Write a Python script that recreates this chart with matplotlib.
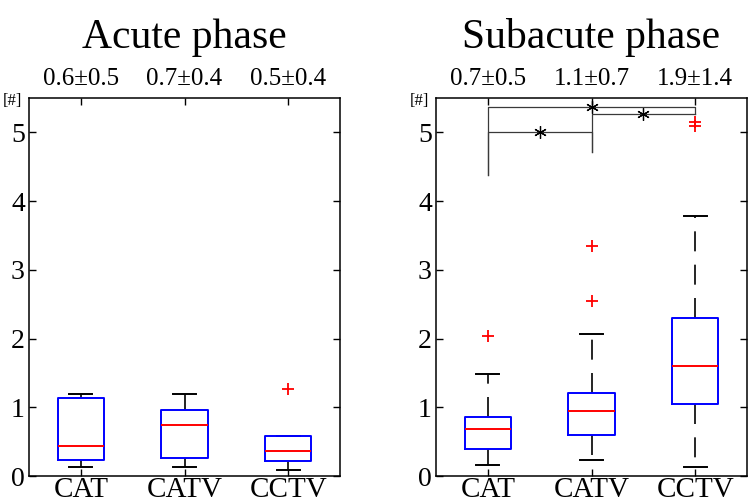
import matplotlib
matplotlib.use("Agg")
import matplotlib.pyplot as plt

plt.rcParams['font.family'] = ['Liberation Serif', 'DejaVu Serif']

groups = ["CAT", "CATV", "CCTV"]
titles = ["Acute phase", "Subacute phase"]

# acute phase box stats
acute_whislo = [0.135, 0.135, 0.087]
acute_q1 = [0.23, 0.266, 0.222]
acute_med = [0.43, 0.737, 0.368]
acute_q3 = [1.14, 0.955, 0.586]
acute_whishi = [1.19, 1.19, 0.586]
acute_fliers = [[], [], [1.26]]
acute_mean_sd = ["0.6\u00b10.5", "0.7\u00b10.4", "0.5\u00b10.4"]

# subacute phase box stats
sub_whislo = [0.16, 0.23, 0.13]
sub_q1 = [0.40, 0.596, 1.047]
sub_med = [0.688, 0.945, 1.60]
sub_q3 = [0.862, 1.21, 2.30]
sub_whishi = [1.48, 2.06, 3.78]
sub_fliers = [[2.03], [2.54, 3.34], [5.09, 5.15]]
sub_mean_sd = ["0.7\u00b10.5", "1.1\u00b10.7", "1.9\u00b11.4"]

# significance brackets (subacute)
sig_x1 = [1, 1, 2]
sig_x2 = [2, 3, 3]
sig_y = [5.0, 5.37, 5.26]
sig_leg1 = [4.375, 4.375, 4.71]
sig_leg2 = [4.71, 5.26, 5.26]


def make_stats(whislo, q1, med, q3, whishi, fliers):
    stats = []
    for i in range(len(groups)):
        stats.append(dict(whislo=whislo[i], q1=q1[i], med=med[i], q3=q3[i],
                          whishi=whishi[i], fliers=fliers[i], label=groups[i]))
    return stats


def draw_panel(ax, stats, title, mean_sd):
    ax.bxp(stats, positions=[1, 2, 3], widths=0.45, capwidths=0.225,
           showfliers=True,
           boxprops=dict(color='#0000ff', linewidth=1.4, zorder=2.5),
           medianprops=dict(color='#ff0000', linewidth=1.4, zorder=2.6),
           whiskerprops=dict(color='black', linewidth=1.2, linestyle=(0, (12, 8)), zorder=2),
           capprops=dict(color='black', linewidth=1.4, zorder=2),
           flierprops=dict(marker='+', markeredgecolor='#ff0000', markersize=8,
                           markeredgewidth=1.3, linestyle='none'))
    ax.set_xlim(0.5, 3.5)
    ax.set_ylim(0, 5.5)
    ax.set_yticks([0, 1, 2, 3, 4, 5])
    ax.set_xticks([1, 2, 3])
    ax.set_xticklabels(groups)
    ax.tick_params(axis='both', direction='in', top=True, right=True,
                   length=5, width=1.0)
    ax.tick_params(axis='x', labelsize=21, pad=1)
    ax.tick_params(axis='y', labelsize=20, pad=3)
    for sp in ax.spines.values():
        sp.set_linewidth(1.1)
    ax.text(0.5, 1.132, title, transform=ax.transAxes, ha='center',
            va='baseline', fontsize=30)
    for i, s in enumerate(mean_sd):
        ax.text(i + 1, 1.034, s, transform=ax.get_xaxis_transform(),
                ha='center', va='baseline', fontsize=18)
    ax.text(-0.022, 0.992, "[#]", transform=ax.transAxes, ha='right',
            va='center', fontsize=12)


fig = plt.figure(figsize=(7.5, 5.04), dpi=100)
ax1 = fig.add_axes([29 / 750, 28 / 504, 311 / 750, 378 / 504])
ax2 = fig.add_axes([436 / 750, 28 / 504, 311 / 750, 378 / 504])

draw_panel(ax1, make_stats(acute_whislo, acute_q1, acute_med, acute_q3,
                           acute_whishi, acute_fliers), titles[0], acute_mean_sd)
draw_panel(ax2, make_stats(sub_whislo, sub_q1, sub_med, sub_q3,
                           sub_whishi, sub_fliers), titles[1], sub_mean_sd)

# brackets with stars
for x1, x2, y, l1, l2 in zip(sig_x1, sig_x2, sig_y, sig_leg1, sig_leg2):
    ax2.plot([x1, x1, x2, x2], [l1, y, y, l2], color='#3a3a3a', linewidth=0.9)
    ax2.plot([(x1 + x2) / 2], [y], marker=(6, 2, 0), markersize=9,
             markeredgewidth=0.9, color='black', linestyle='none')

fig.savefig("out.png", dpi=100)
